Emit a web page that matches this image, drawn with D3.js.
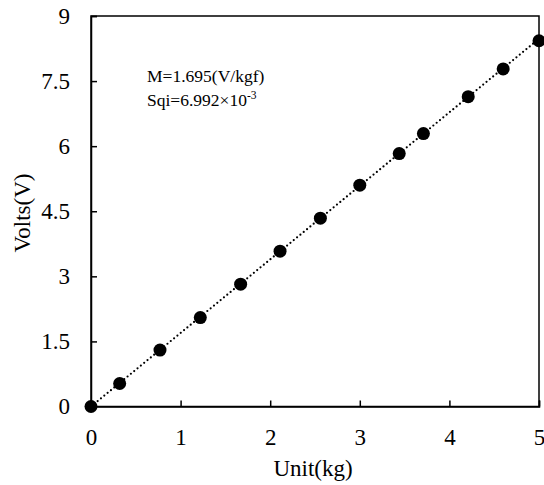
<!DOCTYPE html>
<html><head><meta charset="utf-8">
<script src="https://cdn.jsdelivr.net/npm/d3@7/dist/d3.min.js"></script>
<style>body{margin:0;background:#fff}svg{display:block}</style>
</head><body><svg id="c" width="544" height="485"></svg>
<script>
const unitKg = [0, 0.32, 0.77, 1.22, 1.67, 2.11, 2.56, 3.0, 3.44, 3.71, 4.21, 4.60, 5.0];
const volts  = [0, 0.53, 1.30, 2.05, 2.82, 3.58, 4.34, 5.10, 5.83, 6.29, 7.14, 7.78, 8.43];
const xTicks = [0, 1, 2, 3, 4, 5];
const yTicks = [0, 1.5, 3, 4.5, 6, 7.5, 9];
const slope = 1.695;
const fitX = [0, 5];

const FONT = "'Liberation Serif', 'Times New Roman', Tinos, 'DejaVu Serif', serif";
const svg = d3.select("#c");
const L = 91, R = 539, T = 16, B = 406.5;
const x = d3.scaleLinear().domain([0, 5]).range([L, R]);
const y = d3.scaleLinear().domain([0, 9]).range([B, T]);

svg.append("rect").attr("x", L).attr("y", T).attr("width", R - L).attr("height", B - T)
  .attr("fill", "none").attr("stroke", "#000").attr("stroke-width", 1.5);

const xa = svg.append("g").attr("transform", `translate(0,${B})`)
  .call(d3.axisBottom(x).tickValues(xTicks).tickSize(-6).tickPadding(22).tickFormat(d3.format("d")));
const ya = svg.append("g").attr("transform", `translate(${L},0)`)
  .call(d3.axisLeft(y).tickValues(yTicks).tickSize(-6).tickPadding(21).tickFormat(d => String(d)));
[xa, ya].forEach(a => {
  a.attr("font-family", null).attr("font-size", null);
  a.select(".domain").attr("stroke", "#000").attr("stroke-width", 1.5);
  a.selectAll(".tick line").attr("stroke", "#000").attr("stroke-width", 1.5);
  a.selectAll(".tick text").style("font-family", FONT).style("font-size", "23px").attr("fill", "#000");
});

svg.append("line")
  .attr("x1", x(fitX[0])).attr("y1", y(fitX[0] * slope))
  .attr("x2", x(fitX[1])).attr("y2", y(fitX[1] * slope))
  .attr("stroke", "#000").attr("stroke-width", 2.2)
  .attr("stroke-linecap", "round").attr("stroke-dasharray", "0,4.3");

svg.selectAll("circle.p").data(unitKg).enter().append("circle")
  .attr("class", "p").attr("cx", d => x(d)).attr("cy", (d, i) => y(volts[i]))
  .attr("r", 6.5).attr("fill", "#000");

svg.append("text").attr("x", 147).attr("y", 82).style("font-family", FONT).style("font-size", "17.5px")
  .text("M=1.695(V/kgf)");
const t2 = svg.append("text").attr("x", 147).attr("y", 106).style("font-family", FONT).style("font-size", "17.5px");
t2.append("tspan").text("Sqi=6.992×10");
t2.append("tspan").style("font-size", "11.5px").attr("dy", -7).text("-3");

svg.append("text").attr("x", x(2.5) - 2).attr("y", 476).attr("text-anchor", "middle")
  .style("font-family", FONT).style("font-size", "23px").text("Unit(kg)");
svg.append("text").attr("transform", `translate(30,213) rotate(-90)`)
  .attr("text-anchor", "middle").style("font-family", FONT).style("font-size", "23px").text("Volts(V)");
</script></body></html>
